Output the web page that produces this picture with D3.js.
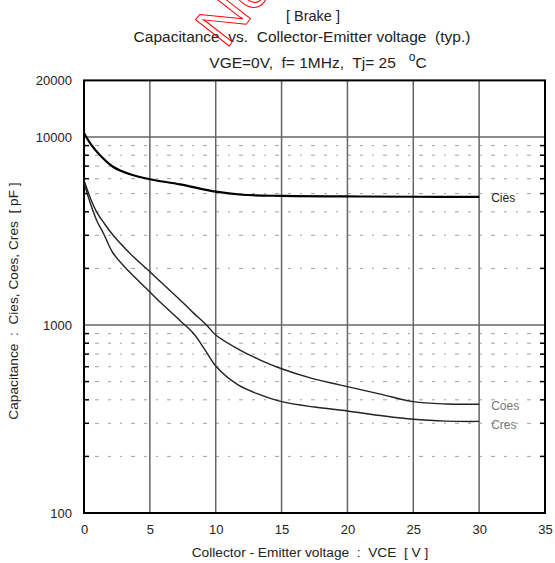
<!DOCTYPE html>
<html><head><meta charset="utf-8">
<script src="https://cdn.jsdelivr.net/npm/d3@7"></script>
<style>
body{margin:0;background:#fff;}
text{font-family:"Liberation Sans",Arial,sans-serif;fill:#222;}
</style></head>
<body><svg id="c" width="555" height="563"></svg>
<script>
// Data
const ciesV = [0,0.5,1.2,2.2,3.5,5,7.3,10,12,15,20,25,30];
const ciesC = [10500,9200,8020,6950,6330,5960,5600,5120,4930,4860,4830,4810,4800];
const coesV = [0,0.5,1,1.5,2.2,3.5,5,6,7.3,8.3,9.3,10,11.7,13.3,15,17.3,19.4,22.5,25,27.5,30];
const coesC = [5900,4700,3950,3500,3010,2400,1920,1650,1360,1160,1000,885,745,655,585,520,480,429,391,380,379];
const cresV = [0,0.5,1,1.5,2.2,3.5,5,6,7.3,8.3,9.2,10,11.7,13.4,15,17.5,20,22.5,25,27.5,30];
const cresC = [5700,4400,3550,3050,2415,1900,1500,1280,1054,903,736,605,480,425,391,366,349,330,315,308,307];
const xTicks = [0,5,10,15,20,25,30,35];
const yTicks = [100,1000,10000,20000];
const seriesNames = ["Cies","Coes","Cres"];

const svg = d3.select("#c");
const x = d3.scaleLinear().domain([0,35]).range([84,545]);
const y = d3.scaleLog().domain([100,20000]).range([513,80.4]);

// minor dotted grid
const minor = [];
[100,1000].forEach(b=>{for(let k=2;k<=9;k++) minor.push(b*k);});
svg.append("g").selectAll("line").data(minor).join("line")
  .attr("x1",x(0)).attr("x2",x(35)).attr("y1",d=>y(d)).attr("y2",d=>y(d))
  .attr("stroke","#a0a0a0").attr("stroke-width",1).attr("stroke-dasharray","2,9,4,9,3,9");
// minor ticks left/right
svg.append("g").selectAll("line").data(minor).join("line")
  .attr("x1",x(0)).attr("x2",x(0)+5).attr("y1",d=>y(d)).attr("y2",d=>y(d))
  .attr("stroke","#000").attr("stroke-width",1.5);
svg.append("g").selectAll("line").data(minor).join("line")
  .attr("x1",x(35)-5).attr("x2",x(35)).attr("y1",d=>y(d)).attr("y2",d=>y(d))
  .attr("stroke","#000").attr("stroke-width",1.5);
// major grid
svg.append("g").selectAll("line").data([1000,10000]).join("line")
  .attr("x1",x(0)).attr("x2",x(35)).attr("y1",d=>y(d)).attr("y2",d=>y(d))
  .attr("stroke","#666").attr("stroke-width",1.5);
svg.append("g").selectAll("line").data(xTicks.slice(1,-1)).join("line")
  .attr("x1",d=>x(d)).attr("x2",d=>x(d)).attr("y1",y(20000)).attr("y2",y(100))
  .attr("stroke","#666").attr("stroke-width",1.5);
// frame
svg.append("rect").attr("x",x(0)).attr("y",y(20000)).attr("width",x(35)-x(0)).attr("height",y(100)-y(20000))
  .attr("fill","none").attr("stroke","#000").attr("stroke-width",2);

// axes labels
const xAxis = d3.axisBottom(x).tickValues(xTicks).tickSize(0).tickPadding(12).tickFormat(d3.format("d"));
const gx = svg.append("g").attr("transform",`translate(0,${y(100)})`).call(xAxis);
gx.select(".domain").remove();
gx.selectAll("text").attr("font-size",13).style("fill","#222");
const yAxis = d3.axisLeft(y).tickValues(yTicks).tickSize(0).tickPadding(12).tickFormat(d3.format("d"));
const gy = svg.append("g").attr("transform",`translate(${x(0)},0)`).call(yAxis);
gy.select(".domain").remove();
gy.selectAll("text").attr("font-size",13).style("fill","#222");

// lines
const mk = (vs,cs)=>vs.map((v,i)=>[v,cs[i]]);
const line = d3.line().x(d=>x(d[0])).y(d=>y(d[1])).curve(d3.curveCatmullRom.alpha(0.5));
svg.append("path").attr("d",line(mk(coesV,coesC))).attr("fill","none").attr("stroke","#222").attr("stroke-width",1.4);
svg.append("path").attr("d",line(mk(cresV,cresC))).attr("fill","none").attr("stroke","#222").attr("stroke-width",1.4);
svg.append("path").attr("d",line(mk(ciesV,ciesC))).attr("fill","none").attr("stroke","#000").attr("stroke-width",2.2);

// series labels
const lastC = [ciesC[ciesC.length-1], coesC[coesC.length-1], cresC[cresC.length-1]];
const off = [5,6,8];
svg.append("g").selectAll("text").data(seriesNames).join("text")
  .attr("x",x(30)+12).attr("y",(d,i)=>y(lastC[i])+off[i]).attr("font-size",12)
  .style("fill",(d,i)=>i===0?"#222":"#777").text(d=>d);

// titles
svg.append("text").attr("x",313).attr("y",21).attr("text-anchor","middle").attr("font-size",14.5)
  .attr("xml:space","preserve").text("[ Brake ]");
svg.append("text").attr("x",302).attr("y",42).attr("text-anchor","middle").attr("font-size",15.5)
  .attr("xml:space","preserve").text("Capacitance  vs.  Collector-Emitter voltage  (typ.)");
const t3 = svg.append("text").attr("x",318).attr("y",68).attr("text-anchor","middle").attr("font-size",15.5).attr("xml:space","preserve");
t3.append("tspan").text("VGE=0V,  f= 1MHz,  Tj= 25   ");
t3.append("tspan").attr("font-size",12).attr("dy",-7).text("o");
t3.append("tspan").attr("dy",7).text("C");
svg.append("text").attr("x",310).attr("y",557).attr("text-anchor","middle").attr("font-size",13.7)
  .attr("xml:space","preserve").text("Collector - Emitter voltage  :  VCE  [ V ]");
svg.append("text").attr("transform","translate(18,301) rotate(-90)").attr("text-anchor","middle").attr("font-size",13.7)
  .attr("xml:space","preserve").text("Capacitance  :  Cies, Coes, Cres  [ pF ]");

// watermark
svg.append("text").attr("transform","translate(226,50) rotate(-52)").attr("font-size",62)
  .style("fill","none").attr("stroke","#f00").attr("stroke-width",1).text("Not");
</script></body></html>
